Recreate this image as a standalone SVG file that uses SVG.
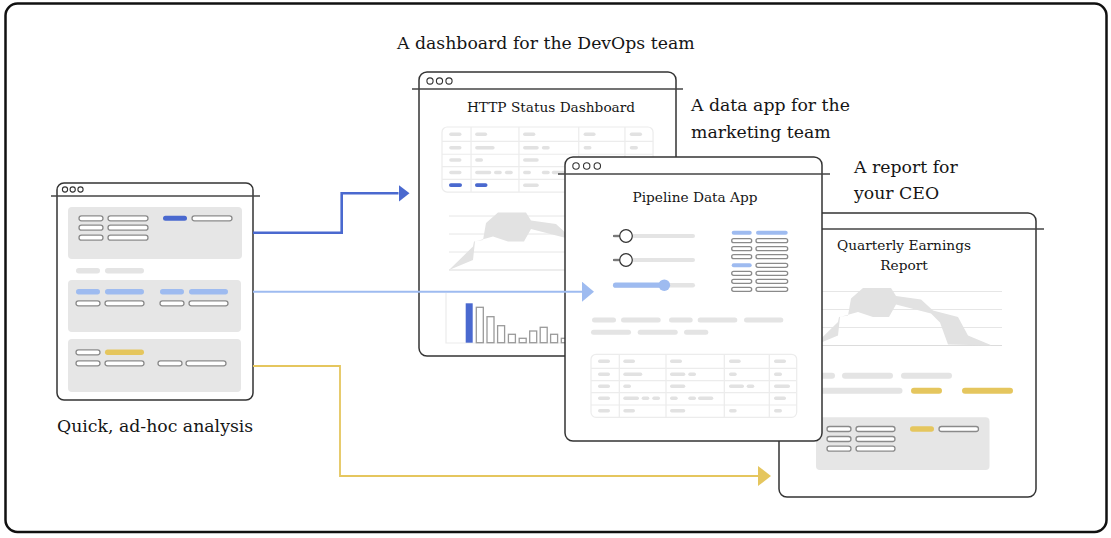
<svg xmlns="http://www.w3.org/2000/svg" xmlns:xlink="http://www.w3.org/1999/xlink" width="1111" height="538" viewBox="0 0 1111 538">
<style>
  .lbl{font-family:"DejaVu Serif","Liberation Serif",serif;font-size:17.3px;fill:#151515}
  .ttl{font-family:"DejaVu Serif","Liberation Serif",serif;font-size:13.7px;fill:#151515;text-anchor:middle}
  .win{fill:#fff;stroke:#333;stroke-width:1.5}
  .bar{stroke:#444;stroke-width:1.5}
  .dot{fill:#fff;stroke:#333;stroke-width:1.1}
  .panel{fill:#e6e6e6}
  .pill{fill:#fff;stroke:#8a8a8a;stroke-width:1.3}
  .gray{fill:#e4e4e4}
  .dash{fill:#e2e2e2}
  .tline{stroke:#ececec;stroke-width:1.2;fill:none}
  .grid{stroke:#e6e6e6;stroke-width:1}
  .area{fill:#e2e2e2}
  .blue{fill:#4a69cf}
  .lblue{fill:#9ebbf0}
  .yel{fill:#e5c65e}
  .obar{fill:#fff;stroke:#9a9a9a;stroke-width:1.3}
  .knob{fill:#fff;stroke:#333;stroke-width:1.2}
</style>
<defs>
  <marker id="ahDark" viewBox="0 0 11 17" refX="0" refY="8.5" markerWidth="11" markerHeight="17" markerUnits="userSpaceOnUse" orient="auto"><path d="M0,0 L11,8.5 L0,17 Z" fill="#4a69cf"/></marker>
  <marker id="ahLight" viewBox="0 0 12 20" refX="0" refY="10" markerWidth="12" markerHeight="20" markerUnits="userSpaceOnUse" orient="auto"><path d="M0,0 L12,10 L0,20 Z" fill="#9ebbf0"/></marker>
  <marker id="ahYel" viewBox="0 0 13 20" refX="0" refY="10" markerWidth="13" markerHeight="20" markerUnits="userSpaceOnUse" orient="auto"><path d="M0,0 L13,10 L0,20 Z" fill="#e5c65e"/></marker>
  <g id="tbl">
    <rect x="0" y="0" width="205.7" height="63" rx="5" fill="#fff" class="tline"/>
    <path class="tline" d="M0,14H205.7M0,26.4H205.7M0,38.4H205.7M0,50.7H205.7M28.3,0V63M75,0V63M133.3,0V63M178.3,0V63"/>
    <g class="dash">
      <rect x="7" y="5.3" width="12" height="3.4" rx="1.7"/><rect x="32.3" y="5.3" width="11.7" height="3.4" rx="1.7"/><rect x="79" y="5.3" width="12" height="3.4" rx="1.7"/><rect x="138" y="5.3" width="11.7" height="3.4" rx="1.7"/><rect x="183" y="5.3" width="12" height="3.4" rx="1.7"/>
      <rect x="7" y="18.3" width="12" height="3.4" rx="1.7"/><rect x="32.3" y="18.3" width="19" height="3.4" rx="1.7"/><rect x="79" y="18.3" width="15.3" height="3.4" rx="1.7"/><rect x="97.3" y="18.3" width="7.7" height="3.4" rx="1.7"/><rect x="138" y="18.3" width="7.7" height="3.4" rx="1.7"/><rect x="183" y="18.3" width="8" height="3.4" rx="1.7"/>
      <rect x="7" y="30.3" width="12" height="3.4" rx="1.7"/><rect x="32.3" y="30.3" width="7.7" height="3.4" rx="1.7"/><rect x="79" y="30.3" width="15.3" height="3.4" rx="1.7"/><rect x="138" y="30.3" width="15" height="3.4" rx="1.7"/><rect x="155.7" y="30.3" width="7.6" height="3.4" rx="1.7"/><rect x="183" y="30.3" width="16" height="3.4" rx="1.7"/>
      <rect x="7" y="42.3" width="12" height="3.4" rx="1.7"/><rect x="32.3" y="42.3" width="15.7" height="3.4" rx="1.7"/><rect x="50.7" y="42.3" width="7.6" height="3.4" rx="1.7"/><rect x="61.3" y="42.3" width="7.7" height="3.4" rx="1.7"/><rect x="79" y="42.3" width="7.7" height="3.4" rx="1.7"/><rect x="97.3" y="42.3" width="7.7" height="3.4" rx="1.7"/><rect x="107" y="42.3" width="15.3" height="3.4" rx="1.7"/><rect x="183" y="42.3" width="12" height="3.4" rx="1.7"/>
      <rect x="7" y="54.7" width="12" height="3.4" rx="1.7"/><rect x="32.3" y="54.7" width="11.7" height="3.4" rx="1.7"/><rect x="79" y="54.7" width="15.3" height="3.4" rx="1.7"/><rect x="138" y="54.7" width="7.7" height="3.4" rx="1.7"/><rect x="183" y="54.7" width="8" height="3.4" rx="1.7"/>
    </g>
  </g>
  <g id="chart">
    <path class="grid" d="M449,216H637M449,234H637M449,252H637"/>
    <path d="M449,270H637" stroke="#dcdcdc" stroke-width="1.2"/>
    <polygon class="area" points="449,270 473,246.5 474,241.5 483,240 486,223 498,212.5 526,212.5 531,220.5 556,224 568,235 593,241.5 603,260 627,270 583,269 575,247 566,238 531,229 524,241.5 508,241.5 493,236.5 475,241.5 473,260"/>
  </g>
</defs>

<rect x="5.5" y="3.5" width="1101" height="528.5" rx="12" fill="#fff" stroke="#111" stroke-width="2.5"/>

<g id="labels">
  <text class="lbl" x="397" y="49">A dashboard for the DevOps team</text>
  <text class="lbl" x="691" y="111">A data app for the</text>
  <text class="lbl" x="691" y="138">marketing team</text>
  <text class="lbl" x="854" y="173">A report for</text>
  <text class="lbl" x="854" y="199">your CEO</text>
  <text class="lbl" x="57" y="432">Quick, ad-hoc analysis</text>
</g>

<g id="node-adhoc">
  <rect class="win" x="57" y="183" width="196" height="217" rx="7"/>
  <path class="bar" d="M51,196H260"/>
  <circle class="dot" cx="65" cy="189.5" r="2.6"/><circle class="dot" cx="72.7" cy="189.5" r="2.6"/><circle class="dot" cx="80.5" cy="189.5" r="2.6"/>
  <rect class="panel" x="68" y="207" width="174" height="52" rx="4"/>
  <rect class="pill" x="79" y="215.8" width="24" height="5" rx="2.5"/><rect class="pill" x="108" y="215.8" width="40" height="5" rx="2.5"/>
  <rect class="blue" x="163" y="215.8" width="24" height="5" rx="2.5"/><rect class="pill" x="192" y="215.8" width="40" height="5" rx="2.5"/>
  <rect class="pill" x="79" y="225.2" width="24" height="5" rx="2.5"/><rect class="pill" x="108" y="225.2" width="40" height="5" rx="2.5"/>
  <rect class="pill" x="79" y="235.2" width="24" height="5" rx="2.5"/><rect class="pill" x="108" y="235.2" width="40" height="5" rx="2.5"/>
  <rect class="gray" x="76" y="268" width="24" height="5.4" rx="2.7"/><rect class="gray" x="105" y="268" width="39" height="5.4" rx="2.7"/>
  <rect class="panel" x="68" y="280" width="173" height="52" rx="4"/>
  <rect class="lblue" x="76" y="289" width="24" height="5.4" rx="2.7"/><rect class="lblue" x="105" y="289" width="39" height="5.4" rx="2.7"/>
  <rect class="lblue" x="160" y="289" width="24" height="5.4" rx="2.7"/><rect class="lblue" x="189" y="289" width="39" height="5.4" rx="2.7"/>
  <rect class="pill" x="76" y="300.8" width="24" height="5" rx="2.5"/><rect class="pill" x="105" y="300.8" width="39" height="5" rx="2.5"/>
  <rect class="pill" x="160" y="300.8" width="24" height="5" rx="2.5"/><rect class="pill" x="189" y="300.8" width="39" height="5" rx="2.5"/>
  <rect class="panel" x="68" y="339" width="173" height="53" rx="4"/>
  <rect class="pill" x="76" y="349.8" width="24" height="5" rx="2.5"/><rect class="yel" x="105" y="349.6" width="39" height="5.4" rx="2.7"/>
  <rect class="pill" x="76" y="360.8" width="24" height="5" rx="2.5"/><rect class="pill" x="105" y="360.8" width="39" height="5" rx="2.5"/>
  <rect class="pill" x="158" y="360.8" width="24" height="5" rx="2.5"/><rect class="pill" x="186" y="360.8" width="40" height="5" rx="2.5"/>
</g>

<g id="node-http">
  <rect class="win" x="419" y="72" width="257" height="284" rx="8"/>
  <path class="bar" d="M412,89H683"/>
  <circle class="dot" cx="430" cy="81" r="3.1"/><circle class="dot" cx="439.5" cy="81" r="3.1"/><circle class="dot" cx="449" cy="81" r="3.1"/>
  <text class="ttl" x="551" y="112">HTTP Status Dashboard</text>
  <use xlink:href="#tbl" href="#tbl" transform="translate(442,127) scale(1.026,1.032)"/>
  <rect class="blue" x="449" y="183.2" width="13" height="3.8" rx="1.9"/><rect class="blue" x="475" y="183.2" width="12.5" height="3.8" rx="1.9"/>
  <use xlink:href="#chart" href="#chart"/>
  <path d="M446,293V343H640" fill="none" stroke="#ececec" stroke-width="1.2"/>
  <rect class="blue" x="465.7" y="303.3" width="7" height="39.4"/>
  <rect class="obar" x="476.3" y="307.3" width="7" height="35.4"/>
  <rect class="obar" x="487" y="316.7" width="7" height="26"/>
  <rect class="obar" x="497.6" y="325.7" width="7" height="17"/>
  <rect class="obar" x="508.4" y="334.3" width="7" height="8.4"/>
  <rect class="obar" x="519.2" y="338.3" width="7" height="4.4"/>
  <rect class="obar" x="529.7" y="331" width="7" height="11.7"/>
  <rect class="obar" x="540.2" y="327.3" width="7" height="15.4"/>
  <rect class="obar" x="550.6" y="334.3" width="7" height="8.4"/>
  <rect class="obar" x="561.3" y="338.3" width="7" height="4.4"/>
</g>

<g id="node-report">
  <rect class="win" x="779" y="213" width="257" height="284" rx="8"/>
  <path class="bar" d="M772,229H1044"/>
  <circle class="dot" cx="790" cy="221" r="3.1"/><circle class="dot" cx="799.5" cy="221" r="3.1"/><circle class="dot" cx="809" cy="221" r="3.1"/>
  <text class="ttl" x="904" y="250">Quarterly Earnings</text>
  <text class="ttl" x="904" y="270">Report</text>
  <use xlink:href="#chart" href="#chart" transform="translate(365,75.5)"/>
  <rect class="gray" x="800" y="372.7" width="35" height="6" rx="3"/><rect class="gray" x="842" y="372.7" width="51" height="6" rx="3"/><rect class="gray" x="901" y="372.7" width="51" height="6" rx="3"/>
  <rect class="gray" x="800" y="387.7" width="102.5" height="6" rx="3"/><rect class="yel" x="911" y="387.7" width="31" height="6" rx="3"/><rect class="yel" x="962" y="387.7" width="51" height="6" rx="3"/>
  <rect class="panel" x="816" y="417.3" width="173.5" height="52.7" rx="4"/>
  <rect class="pill" x="827" y="426.5" width="24" height="5" rx="2.5"/><rect class="pill" x="856" y="426.5" width="39" height="5" rx="2.5"/>
  <rect class="yel" x="910" y="426.3" width="24" height="5.4" rx="2.7"/><rect class="pill" x="939" y="426.5" width="39.5" height="5" rx="2.5"/>
  <rect class="pill" x="827" y="436.5" width="24" height="5" rx="2.5"/><rect class="pill" x="856" y="436.5" width="39" height="5" rx="2.5"/>
  <rect class="pill" x="827" y="446.2" width="24" height="5" rx="2.5"/><rect class="pill" x="856" y="446.2" width="39" height="5" rx="2.5"/>
</g>

<g id="node-pipeline">
  <rect class="win" x="565" y="157" width="257" height="284" rx="8"/>
  <path class="bar" d="M558,174H830"/>
  <circle class="dot" cx="576" cy="166" r="3.2"/><circle class="dot" cx="586.7" cy="166" r="3.2"/><circle class="dot" cx="597.3" cy="166" r="3.2"/>
  <text class="ttl" x="695" y="201.5">Pipeline Data App</text>
  <rect class="gray" x="613" y="234" width="82" height="4" rx="2"/>
  <path d="M613,236H621" stroke="#333" stroke-width="1.2"/>
  <circle class="knob" cx="626" cy="236" r="6.3"/>
  <rect class="gray" x="613" y="258" width="82" height="4" rx="2"/>
  <path d="M613,260H621" stroke="#333" stroke-width="1.2"/>
  <circle class="knob" cx="626" cy="260" r="6.3"/>
  <rect class="gray" x="613" y="283" width="82" height="4.5" rx="2.2"/>
  <rect class="lblue" x="613" y="282.6" width="52" height="5.2" rx="2.6"/>
  <circle class="lblue" cx="664.3" cy="285.2" r="5.8"/>
  <rect class="lblue" x="731.7" y="230.7" width="20" height="4" rx="2"/><rect class="lblue" x="756" y="230.7" width="31.7" height="4" rx="2"/>
  <rect class="pill" x="731.7" y="238.7" width="20" height="4" rx="2"/><rect class="pill" x="756" y="238.7" width="31.7" height="4" rx="2"/>
  <rect class="pill" x="731.7" y="246.7" width="20" height="4" rx="2"/><rect class="pill" x="756" y="246.7" width="31.7" height="4" rx="2"/>
  <rect class="pill" x="731.7" y="254.7" width="20" height="4" rx="2"/><rect class="pill" x="756" y="254.7" width="31.7" height="4" rx="2"/>
  <rect class="lblue" x="731.7" y="263.3" width="20" height="4" rx="2"/><rect class="pill" x="756" y="263.3" width="31.7" height="4" rx="2"/>
  <rect class="pill" x="731.7" y="271.3" width="20" height="4" rx="2"/><rect class="pill" x="756" y="271.3" width="31.7" height="4" rx="2"/>
  <rect class="pill" x="731.7" y="279.3" width="20" height="4" rx="2"/><rect class="pill" x="756" y="279.3" width="31.7" height="4" rx="2"/>
  <rect class="pill" x="731.7" y="287.3" width="20" height="4" rx="2"/><rect class="pill" x="756" y="287.3" width="31.7" height="4" rx="2"/>
  <rect class="gray" x="592" y="317.5" width="24" height="5" rx="2.5"/><rect class="gray" x="621" y="317.5" width="39.7" height="5" rx="2.5"/><rect class="gray" x="669" y="317.5" width="23.7" height="5" rx="2.5"/><rect class="gray" x="697.7" y="317.5" width="39.6" height="5" rx="2.5"/><rect class="gray" x="744" y="317.5" width="39.3" height="5" rx="2.5"/>
  <rect class="gray" x="591" y="329.8" width="40" height="5" rx="2.5"/><rect class="gray" x="637.7" y="329.8" width="40" height="5" rx="2.5"/><rect class="gray" x="684" y="329.8" width="24.3" height="5" rx="2.5"/>
  <use xlink:href="#tbl" href="#tbl" transform="translate(591,354.3)"/>
</g>

<g id="connectors" fill="none">
  <path d="M253,232.7H341.7V193.3H398.5" stroke="#4a69cf" stroke-width="2.6" marker-end="url(#ahDark)"/>
  <path d="M253,291.7H582" stroke="#9ebbf0" stroke-width="2" marker-end="url(#ahLight)"/>
  <path d="M253,366H340V476H758" stroke="#e5c65e" stroke-width="1.8" marker-end="url(#ahYel)"/>
</g>
</svg>
